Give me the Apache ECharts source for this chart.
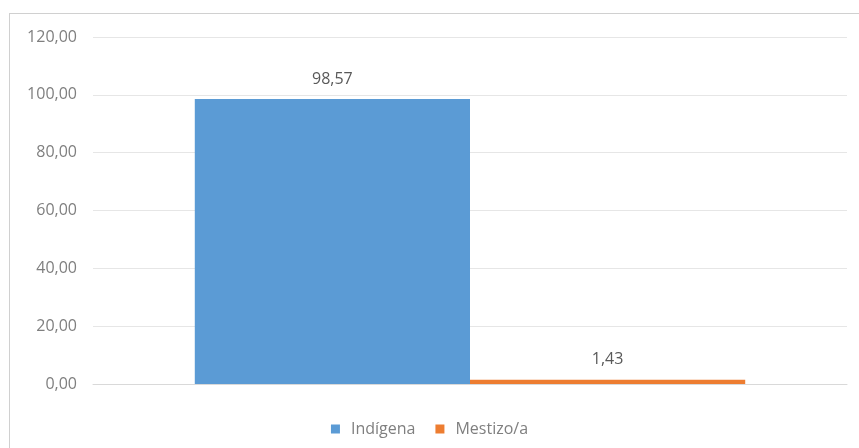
<!DOCTYPE html>
<html><head><meta charset="utf-8">
<script src="https://cdn.jsdelivr.net/npm/echarts@6/dist/echarts.min.js"></script>
<style>
html,body{margin:0;padding:0;background:#fff;}
#frame{position:absolute;left:9px;top:13px;width:860px;height:440px;border:1px solid #d0d0d0;box-sizing:border-box;}
#c{position:absolute;left:0;top:0;width:859px;height:448px;}
</style></head>
<body>
<div id="frame"></div>
<div id="c"></div>
<script>
var categories = [''];
var seriesNames = ['Indígena', 'Mestizo/a'];
var indigenaValues = [98.57];
var mestizoValues = [1.43];
var yTicks = [0, 20, 40, 60, 80, 100, 120];

var fmt = function (v) { return Number(v).toFixed(2).replace('.', ','); };
var chart = echarts.init(document.getElementById('c'), null, {renderer: 'canvas'});
chart.setOption({
  animation: false,
  textStyle: {fontFamily: 'Open Sans, sans-serif'},
  grid: {left: 93, right: 12, top: 37, bottom: 64, containLabel: false},
  legend: {
    top: 416, left: 'center', itemWidth: 9, itemHeight: 9, itemGap: 20,
    icon: 'rect',
    textStyle: {color: '#7f7f7f', fontSize: 16, padding: [0, 0, 0, 6]},
    data: seriesNames
  },
  xAxis: {
    type: 'category', data: categories,
    axisLine: {show: true, lineStyle: {color: '#d9d9d9'}},
    axisTick: {show: false}, axisLabel: {show: false}
  },
  yAxis: {
    type: 'value', min: yTicks[0], max: yTicks[yTicks.length - 1], interval: 20,
    axisLine: {show: false}, axisTick: {show: false},
    axisLabel: {color: '#7f7f7f', fontSize: 16, margin: 16, formatter: fmt},
    splitLine: {lineStyle: {color: '#e6e6e6'}}
  },
  series: [
    {name: seriesNames[0], type: 'bar', data: indigenaValues, barGap: '0%', barCategoryGap: '27%',
     itemStyle: {color: '#5B9BD5'},
     label: {show: true, position: 'top', color: '#595959', fontSize: 16, distance: 12, formatter: function (p) { return fmt(p.value); }}},
    {name: seriesNames[1], type: 'bar', data: mestizoValues, barGap: '0%', barCategoryGap: '27%',
     itemStyle: {color: '#ED7D31'},
     label: {show: true, position: 'top', color: '#595959', fontSize: 16, distance: 12, formatter: function (p) { return fmt(p.value); }}}
  ]
});
</script>
</body></html>
